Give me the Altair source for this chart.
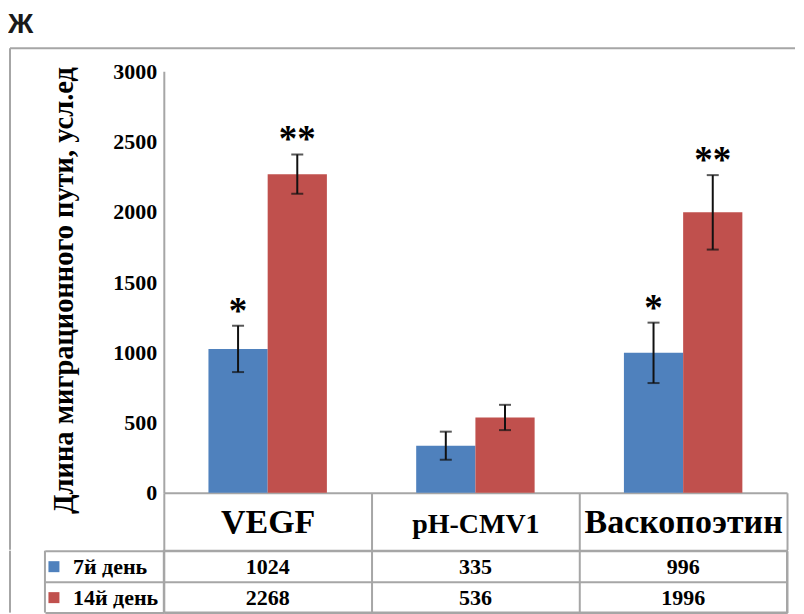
import altair as alt
import pandas as pd

categories = ["VEGF", "pH-CMV1", "Васкопоэтин"]
series = ["7й день", "14й день"]
day7 = [1024, 335, 996]
day14 = [2268, 536, 1996]
err7 = [165, 100, 215]
err14 = [140, 90, 265]
sig7 = ["*", "", "*"]
sig14 = ["**", "", "**"]
y_ticks = [0, 500, 1000, 1500, 2000, 2500, 3000]
colors = ["#4F81BD", "#C0504D"]
y_title = "Длина миграционного пути, усл.ед"
panel_label = "Ж"

rows = []
for s, vals, errs, sigs in [(series[0], day7, err7, sig7), (series[1], day14, err14, sig14)]:
    for c, v, e, g in zip(categories, vals, errs, sigs):
        rows.append({"category": c, "series": s, "value": v, "lo": v - e, "hi": v + e, "sig": g})
df = pd.DataFrame(rows)
one = pd.DataFrame({"k": [0]})

W = 624
H = 422
CAT_H = 57
ROW_H = 31
GRAY = "#a6a6a6"
SERIF = "Liberation Serif"
FRAME_X = -154

x_scale = alt.Scale(paddingInner=0, paddingOuter=0)
xo = alt.XOffset("series:N", sort=series, scale=alt.Scale(paddingInner=0, paddingOuter=0.754))
x_top = alt.X(
    "category:N", sort=categories, scale=x_scale,
    axis=alt.Axis(
        title=None, labelAngle=0, labelFont=SERIF, labelFontWeight="bold", labelColor="black",
        labelFontSize={"condition": {"test": "datum.value === 'pH-CMV1'", "value": 28}, "value": 34},
        labelBaseline="alphabetic", labelPadding=-17, labelLimit=400, labelOverlap=False,
        ticks=True, tickSize=CAT_H, tickBand="extent", tickColor=GRAY, tickWidth=2,
        domainColor=GRAY, domainWidth=2,
    ),
)
y_top = alt.Y(
    "value:Q", scale=alt.Scale(domain=[0, 3000], nice=False),
    axis=alt.Axis(
        values=y_ticks, format="d", title=y_title, titleFont=SERIF, titleFontSize=28.5,
        titleFontWeight="bold", titleColor="black", titleX=-85, titleY=219,
        labelFont=SERIF, labelFontSize=22, labelFontWeight="bold", labelColor="black",
        labelPadding=7, ticks=False, grid=False, domainColor=GRAY, domainWidth=2,
    ),
)
color_bar = alt.Color("series:N", sort=series, scale=alt.Scale(domain=series, range=colors), legend=None)

base = alt.Chart(df)
bars = base.mark_bar().encode(x=x_top, xOffset=xo, y=y_top, color=color_bar)
err_rule = base.mark_rule(color="#111111", strokeWidth=2).encode(
    x=alt.X("category:N", sort=categories), xOffset=xo, y="lo:Q", y2="hi:Q")
cap_lo = base.mark_tick(color="#111111", thickness=2, size=12).encode(
    x=alt.X("category:N", sort=categories), xOffset=xo, y="lo:Q")
cap_hi = base.mark_tick(color="#111111", thickness=2, size=12).encode(
    x=alt.X("category:N", sort=categories), xOffset=xo, y="hi:Q")
stars = base.mark_text(font=SERIF, fontSize=37, fontWeight="bold", baseline="alphabetic",
                       dy=-3, color="black").encode(
    x=alt.X("category:N", sort=categories), xOffset=xo, y="hi:Q", text="sig:N")

frame_v = alt.Chart(one).mark_rule(color=GRAY, strokeWidth=2).encode(
    x=alt.value(FRAME_X), y=alt.value(-23), y2=alt.value(H + CAT_H))
frame_h = alt.Chart(one).mark_rule(color=GRAY, strokeWidth=2).encode(
    x=alt.value(FRAME_X), x2=alt.value(632), y=alt.value(-23))

top = alt.layer(frame_v, frame_h, bars, err_rule, cap_lo, cap_hi, stars).properties(width=W, height=H)

base2 = alt.Chart(df)
x_tab = alt.X("category:N", sort=categories, scale=x_scale,
              axis=alt.Axis(title=None, labels=False, ticks=False, domain=False, grid=True,
                            gridColor=GRAY, gridWidth=2, tickBand="extent"))
y_tab = alt.Y("series:N", sort=series, scale=alt.Scale(paddingInner=0, paddingOuter=0),
              axis=alt.Axis(title=None, labels=False, ticks=True, tickSize=119, tickBand="extent",
                            tickColor=GRAY, tickWidth=2, domain=False, grid=True,
                            gridColor=GRAY, gridWidth=2))
texts = base2.mark_text(font=SERIF, fontSize=22, fontWeight="bold", color="black",
                        baseline="middle", dy=1).encode(
    x=x_tab, y=y_tab, text=alt.Text("value:Q", format="d"))
legend_pts = base2.mark_point(shape="square", filled=True, opacity=0).encode(
    x=alt.X("category:N", sort=categories), y=alt.Y("series:N", sort=series),
    color=alt.Color("series:N", sort=series, scale=alt.Scale(domain=series, range=colors),
                    legend=alt.Legend(title=None, orient="none", legendX=-121, legendY=5,
                                      direction="vertical", symbolType="square", symbolSize=121,
                                      symbolOpacity=1, symbolStrokeWidth=0, labelFont=SERIF,
                                      labelFontSize=22, labelFontWeight="bold", labelColor="black",
                                      labelOffset=8, rowPadding=9, padding=0, labelLimit=200)))
frame_v2 = alt.Chart(one).mark_rule(color=GRAY, strokeWidth=2).encode(
    x=alt.value(FRAME_X), y=alt.value(0), y2=alt.value(2 * ROW_H))
border = alt.Chart(one).mark_rule(color=GRAY, strokeWidth=2).encode(
    x=alt.value(-119), y=alt.value(0), y2=alt.value(2 * ROW_H))

table = alt.layer(frame_v2, border, legend_pts, texts).properties(
    width=W, height=2 * ROW_H, view=alt.ViewBackground(stroke=GRAY, strokeWidth=2))

chart = alt.vconcat(top, table, spacing=-3).resolve_scale(
    color="independent", x="independent").resolve_legend(color="independent").properties(
    title=alt.TitleParams(text=panel_label, anchor="start", font="Liberation Sans", fontSize=28,
                          fontWeight="bold", color="#1a1a1a", offset=8),
    padding={"left": 0, "top": 3, "right": 0, "bottom": 0},
).configure_view(stroke=None)

chart.save("out.html", embed_options={"renderer": "svg", "actions": False})
